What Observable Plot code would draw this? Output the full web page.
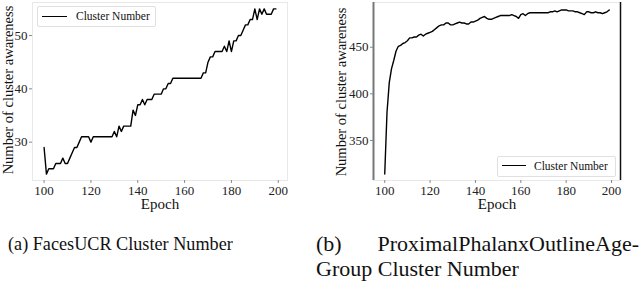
<!DOCTYPE html>
<html><head><meta charset="utf-8">
<script src="https://cdn.jsdelivr.net/npm/d3@7"></script>
<script src="https://cdn.jsdelivr.net/npm/@observablehq/plot@0.6"></script>
<style>
body{margin:0;background:#fff;width:640px;height:283px;overflow:hidden;position:relative;font-family:"Liberation Serif","Times New Roman",serif;color:#111;}
.panel{position:absolute;top:0;}
.panel svg, .panel svg text{font-family:"Liberation Serif","Times New Roman",serif !important;}
.ytitle{position:absolute;width:200px;text-align:center;font-size:14.5px;line-height:16px;transform:rotate(-90deg);white-space:nowrap;}
.xtitle{position:absolute;width:100px;text-align:center;font-size:15px;line-height:16px;}
.legend{position:absolute;border:1px solid #e0e0e0;border-radius:2px;background:#fff;font-size:11.5px;}
.legend .sw{position:absolute;height:0;border-top:1.5px solid #000;}
.legend .lt{position:absolute;white-space:nowrap;line-height:12px;}
.cap{position:absolute;line-height:25px;white-space:nowrap;}
</style>
</head><body>
<div id="left" class="panel" style="left:0"></div>
<div id="right" class="panel" style="left:320px"></div>

<div class="ytitle" style="left:-92px;top:82px">Number of cluster awareness</div>
<div class="ytitle" style="left:241px;top:84px">Number of cluster awareness</div>
<div class="xtitle" style="left:110px;top:196px">Epoch</div>
<div class="xtitle" style="left:447px;top:196px">Epoch</div>

<div class="legend" style="left:37px;top:6px;width:117px;height:19px">
  <div class="sw" style="left:4px;top:9px;width:25px"></div>
  <div class="lt" style="left:38px;top:3px">Cluster Number</div>
</div>
<div class="legend" style="left:497px;top:156px;width:117px;height:19px">
  <div class="sw" style="left:4px;top:8px;width:24px"></div>
  <div class="lt" style="left:36px;top:3px">Cluster Number</div>
</div>

<div class="cap" style="left:8px;top:232px;font-size:18.2px">(a) FacesUCR Cluster Number</div>
<div class="cap" style="left:316px;top:231px;width:323px;font-size:22px;display:flex;justify-content:space-between"><span>(b)</span><span>ProximalPhalanxOutlineAge-</span></div>
<div class="cap" style="left:316px;top:256px;font-size:22px">Group Cluster Number</div>

<script>
const epochs = d3.range(100, 200);
const xTicks = [100, 120, 140, 160, 180, 200];

// FacesUCR cluster number, epochs 100..199
const facesValues = [
  29,24,25,25,25,26,26,26,27,26,
  26,27,28,29,29,30,31,31,31,31,
  30,31,31,31,31,31,31,31,31,31,
  32,31,33,32,33,33,33,33,36,35,
  37,37,38,37,38,38,38,39,39,39,
  39,40,40,41,41,42,42,42,42,42,
  42,42,42,42,42,42,42,42,43,43,
  45,46,46,47,47,47,47,48,47,49,
  47,49,49,50,50,51,52,52,53,53,
  55,53,55,54,55,54,54,54,55,55
];
const facesYTicks = [30, 40, 50];
const facesXDomain = [95.05, 203.95];
const facesYDomain = [22.8, 56.2];

// ProximalPhalanxOutlineAgeGroup cluster number, epochs 100..199
const phalanxValues = [
  314,380,412,427,436,446,451,452,454,455,
  457,460,460,461,461,463,464,462,464,465,
  466,467,469,471,473,474,474,476,476,474,
  474,475,476,477,476,476,475,475,477,477,
  478,479,481,482,483,481,480,480,481,482,
  483,484,484,484,484,484,485,484,483,481,
  485,486,484,486,487,487,487,487,487,487,
  487,487,487,488,488,489,488,489,490,490,
  490,489,489,489,488,488,487,486,485,488,
  488,487,487,488,487,487,486,487,488,490
];
const phalanxYTicks = [350, 400, 450];
const phalanxXDomain = [95.05, 203.95];
const phalanxYDomain = [307, 498];

function panel(values, xDomain, yDomain, yTicks, w, ml, mr, extra) {
  const data = epochs.map((e, i) => ({epoch: e, value: values[i]}));
  return Plot.plot({
    width: w, height: 215,
    marginLeft: ml, marginRight: mr, marginTop: 2, marginBottom: 35,
    style: "font-family: 'Liberation Serif', serif; font-size: 13px; background: white; color: #222;",
    x: {domain: xDomain},
    y: {domain: yDomain},
    marks: [
      Plot.frame({stroke: "#e8e8e8"}),
      ...extra,
      Plot.axisX({ticks: xTicks, tickSize: 3, tickPadding: 2, label: null, tickFormat: d => String(d), stroke: "#888"}),
      Plot.axisY({ticks: yTicks, tickSize: 3, tickPadding: 2, label: null, tickFormat: d => String(d), stroke: "#888"}),
      Plot.line(data, {x: "epoch", y: "value", stroke: "black", strokeWidth: 1.4})
    ]
  });
}

document.getElementById("left").append(
  panel(facesValues, facesXDomain, facesYDomain, facesYTicks, 300, 32, 13, [])
);
document.getElementById("right").append(
  panel(phalanxValues, phalanxXDomain, phalanxYDomain, phalanxYTicks, 320, 53, 20, [
    Plot.ruleX([phalanxXDomain[0]], {stroke: "#777", strokeWidth: 2}),
    Plot.ruleX([phalanxXDomain[1]], {stroke: "#111", strokeWidth: 1.5})
  ])
);
</script>
</body></html>
